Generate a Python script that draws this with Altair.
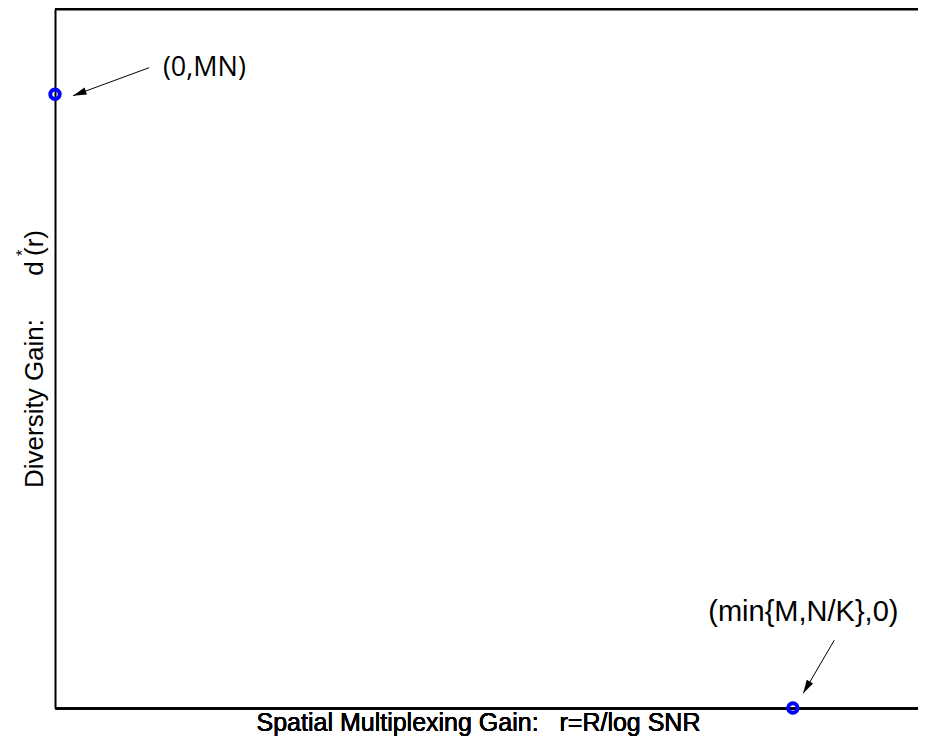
import altair as alt
import pandas as pd

# ---- data (abstract axis units, 0..1) ----
pt_label = ["(0,MN)", "(min{M,N/K},0)"]
pt_x = [0.0, 0.855]
pt_y = [0.878, 0.0]

# annotation text anchors
lab_x = [0.125, 0.757]
lab_y = [0.916, 0.137]

# arrows: tail -> head
arr_x1 = [0.109, 0.903]
arr_y1 = [0.916, 0.097]
arr_x2 = [0.021, 0.867]
arr_y2 = [0.876, 0.021]
arr_angle = [250, 210]

NB = "\u00a0"
x_title = "Spatial Multiplexing Gain:" + NB * 3 + "r=R/log SNR"
y_title = "Diversity Gain:" + NB * 6 + "d" + "\u2009" + "(r)"

W, H = 863, 699

pts = pd.DataFrame({"label": pt_label, "x": pt_x, "y": pt_y})
labs = pd.DataFrame({"label": pt_label, "x": lab_x, "y": lab_y})
arrs = pd.DataFrame({"x1": arr_x1, "y1": arr_y1, "x2": arr_x2, "y2": arr_y2, "ang": arr_angle})

xs = alt.Scale(domain=[0, 1], nice=False, zero=False)
ys = alt.Scale(domain=[0, 1], nice=False, zero=False)

ax_common = dict(ticks=False, labels=False, grid=False, domain=True,
                 domainColor="black", domainWidth=2,
                 titleFont="Liberation Sans",
                 titleFontWeight="normal", titleColor="black")

xaxis = alt.Axis(title=x_title, orient="bottom", titlePadding=2, titleX=423,
                 titleFontSize=25, **ax_common)
yaxis = alt.Axis(title=y_title, orient="left", titlePadding=8, titleFontSize=26, **ax_common)
xaxis_top = alt.Axis(title=None, orient="top", ticks=False, labels=False, grid=False,
                     domain=True, domainColor="black", domainWidth=2)

base_x = alt.X("x:Q", scale=xs, axis=xaxis)
base_y = alt.Y("y:Q", scale=ys, axis=yaxis)

points = alt.Chart(pts).mark_point(
    shape="circle", filled=False, stroke="#0000ff", strokeWidth=4, size=88, opacity=1
).encode(x=base_x, y=base_y)

shafts = alt.Chart(arrs).mark_rule(color="black", strokeWidth=1).encode(
    x=alt.X("x1:Q", scale=xs, axis=xaxis),
    y=alt.Y("y1:Q", scale=ys, axis=yaxis),
    x2="x2:Q", y2="y2:Q",
)

heads = alt.Chart(arrs).mark_point(
    shape="M0,0L-0.55,2L0.55,2Z", filled=True, color="black", size=180, opacity=1
).encode(
    x=alt.X("x2:Q", scale=xs, axis=xaxis),
    y=alt.Y("y2:Q", scale=ys, axis=yaxis),
    angle=alt.Angle("ang:Q", scale=None),
)

lab0 = alt.Chart(labs.iloc[[0]]).mark_text(
    align="left", baseline="middle", font="Open Sans", fontSize=27, color="black"
).encode(x=alt.X("x:Q", scale=xs, axis=xaxis), y=alt.Y("y:Q", scale=ys, axis=yaxis), text="label:N")

lab1 = alt.Chart(labs.iloc[[1]]).mark_text(
    align="left", baseline="middle", font="Liberation Sans", fontSize=29, color="black"
).encode(x=alt.X("x:Q", scale=xs, axis=xaxis), y=alt.Y("y:Q", scale=ys, axis=yaxis), text="label:N")

star = alt.Chart(pd.DataFrame({"t": ["*"]})).mark_text(
    angle=270, font="Liberation Sans", fontSize=16, color="black", align="center", baseline="middle"
).encode(text="t:N", x=alt.value(-32), y=alt.value(244))

top_line = alt.Chart(pd.DataFrame({"x": [0.0, 1.0], "y": [1.0, 1.0]})).mark_line(
    color="black", strokeWidth=2
).encode(
    x=alt.X("x:Q", scale=xs, axis=xaxis_top),
    y=alt.Y("y:Q", scale=ys, axis=yaxis),
)

chart = alt.layer(top_line, shafts, heads, points, lab0, lab1, star).resolve_axis(
    x="independent"
).properties(
    width=W, height=H,
    autosize=alt.AutoSizeParams(type="none"),
    padding={"left": 47, "top": 1, "right": 0, "bottom": 30},
).configure_view(stroke=None).configure(background="white")

chart.save("out.html", embed_options={"renderer": "svg", "actions": False})
